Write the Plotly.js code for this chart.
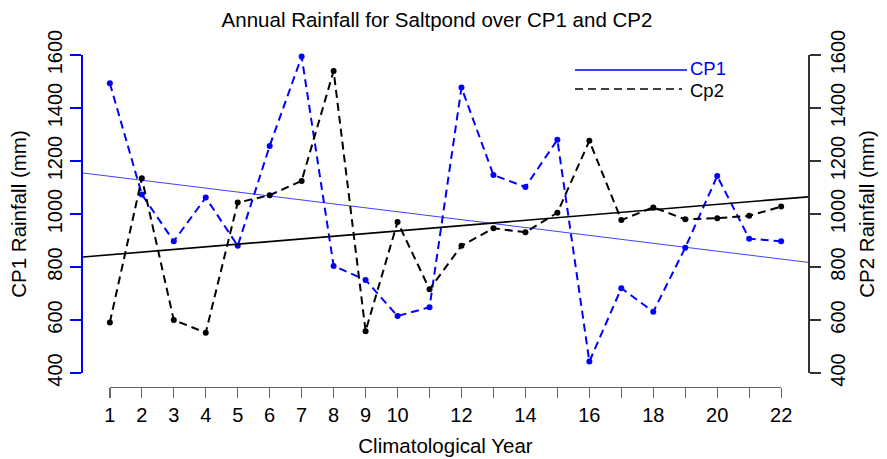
<!DOCTYPE html>
<html>
<head>
<meta charset="utf-8">
<script src="https://cdn.plot.ly/plotly-3.0.1.min.js"></script>
<style>html,body{margin:0;padding:0;background:#fff}#chart{width:887px;height:459px}</style>
</head>
<body>
<div id="chart"></div>
<script>
// ---- data ----
const years = [1,2,3,4,5,6,7,8,9,10,11,12,13,14,15,16,17,18,19,20,21,22];
const cp1 = [1493,1074,897,1062,880,1257,1594,804,751,615,648,1477,1147,1102,1280,443,720,631,873,1143,907,897];
const cp2 = [591,1135,600,552,1043,1071,1125,1540,558,970,716,880,946,931,1005,1276,977,1025,980,984,993,1028];
const xTickLabels = ['1','2','3','4','5','6','7','8','9','10','','12','','14','','16','','18','','20','','22'];
const yTickVals = [400,600,800,1000,1200,1400,1600];
const legendNames = ['CP1','Cp2'];

// least-squares trend
function fit(x, y) {
  const n = x.length;
  const mx = x.reduce((a,b)=>a+b,0)/n, my = y.reduce((a,b)=>a+b,0)/n;
  let sxy = 0, sxx = 0;
  for (let i=0;i<n;i++){ sxy += (x[i]-mx)*(y[i]-my); sxx += (x[i]-mx)*(x[i]-mx); }
  const b = sxy/sxx; return {a: my - b*mx, b: b};
}
const xmin = Math.min(...years), xmax = Math.max(...years);
const ext = 0.04*(xmax-xmin);
const lo = xmin-ext, hi = xmax+ext;
const f1 = fit(years, cp1), f2 = fit(years, cp2);
const trendX = [lo, hi];

const BLUE = '#0000ff';
const traces = [
  {x: trendX, y: trendX.map(v=>f1.a+f1.b*v), mode:'lines', line:{color:'#4040ff', width:1}, xaxis:'x', yaxis:'y', showlegend:false, hoverinfo:'skip'},
  {x: trendX, y: trendX.map(v=>f2.a+f2.b*v), mode:'lines', line:{color:'#000', width:1.6}, xaxis:'x', yaxis:'y2', showlegend:false, hoverinfo:'skip'},
  {x: years, y: cp1, mode:'lines+markers', line:{color:BLUE, width:2, dash:'8px,5px'}, marker:{color:BLUE, size:6}, xaxis:'x', yaxis:'y', showlegend:false, cliponaxis:false},
  {x: years, y: cp2, mode:'lines+markers', line:{color:'#000', width:2, dash:'8px,5px'}, marker:{color:'#000', size:6}, xaxis:'x', yaxis:'y2', showlegend:false, cliponaxis:false},
  {x: years, y: years.map(()=>null), mode:'lines', xaxis:'x2', yaxis:'y', showlegend:false, hoverinfo:'skip'}
];

const W = 887, H = 459;
const mL = 83, mR = 79, mT = 55, mB = 72;
const plotH = H - mT - mB;
const axisGap = 14; // R puts the x axis a little below the y axis range
const FONT = 'Liberation Sans, Arial, sans-serif';

function px2paperX(px){ return (px-mL)/(W-mL-mR); }
function px2paperY(py){ return (H-mB-py)/plotH; }

const layout = {
  width: W, height: H,
  margin: {l:mL, r:mR, t:mT, b:mB, pad:0},
  paper_bgcolor:'#fff', plot_bgcolor:'rgba(0,0,0,0)',
  font: {family: FONT, size: 20, color:'#000'},
  showlegend:false,
  title: {text:'Annual Rainfall for Saltpond over CP1 and CP2', font:{family:FONT, size:20.5, color:'#000'}, x: 437/W, xanchor:'center', y: 1-20/H, yanchor:'middle'},
  xaxis: {range:[lo,hi], visible:false, domain:[0,1], anchor:'y'},
  xaxis2: {range:[xmin,xmax], domain:[(xmin-lo)/(hi-lo),(xmax-lo)/(hi-lo)], anchor:'free', position:0,
    showline:true, linecolor:'#666', linewidth:1.3, ticks:'outside', ticklen:10, tickwidth:1.3, tickcolor:'#666',
    tickvals: years, ticktext: xTickLabels, tickangle:0, tickfont:{size:20, color:'#000'}, showgrid:false, zeroline:false,
    title:{text:'Climatological Year', font:{size:20.5}, standoff:13}},
  yaxis: {range:[400,1600], domain:[axisGap/plotH,1], anchor:'x', side:'left',
    showline:true, linecolor:BLUE, linewidth:2, ticks:'outside', ticklen:11, tickwidth:2, tickcolor:BLUE,
    tickvals:yTickVals, tickangle:-90, tickfont:{size:20, color:'#000'}, showgrid:false, zeroline:false,
    title:{text:'CP1 Rainfall (mm)', font:{size:20.5}, standoff:12}},
  yaxis2: {range:[400,1600], overlaying:'y', anchor:'x', side:'right',
    showline:true, linecolor:'#333', linewidth:2, ticks:'outside', ticklen:11, tickwidth:2, tickcolor:'#333',
    tickvals:yTickVals, tickangle:-90, tickfont:{size:20, color:'#000'}, showgrid:false, zeroline:false,
    title:{text:'CP2 Rainfall (mm)', font:{size:20.5}, standoff:12}},
  shapes: [
    {type:'line', xref:'paper', yref:'paper', x0:px2paperX(575), x1:px2paperX(687), y0:px2paperY(70), y1:px2paperY(70), line:{color:BLUE, width:1.5}},
    {type:'line', xref:'paper', yref:'paper', x0:px2paperX(575), x1:px2paperX(682), y0:px2paperY(89), y1:px2paperY(89), line:{color:'#000', width:1.6, dash:'8px,5px'}}
  ],
  annotations: [
    {xref:'paper', yref:'paper', x:px2paperX(689), y:px2paperY(68.5), xanchor:'left', yanchor:'middle', text:legendNames[0], showarrow:false, font:{size:18.5, color:BLUE}, borderpad:0},
    {xref:'paper', yref:'paper', x:px2paperX(689), y:px2paperY(90.5), xanchor:'left', yanchor:'middle', text:legendNames[1], showarrow:false, font:{size:18.5, color:'#000'}, borderpad:0}
  ]
};
Plotly.newPlot('chart', traces, layout, {displayModeBar:false, staticPlot:true});
</script>
</body>
</html>
